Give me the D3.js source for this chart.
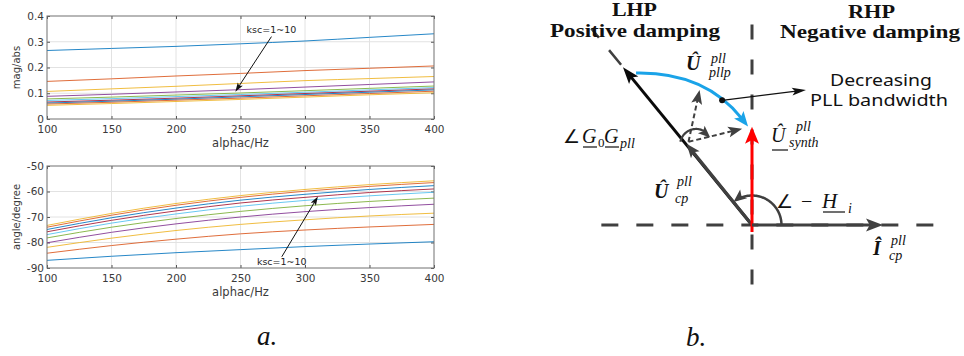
<!DOCTYPE html>
<html>
<head>
<meta charset="utf-8">
<script src="https://cdn.jsdelivr.net/npm/d3@7"></script>
<style>
  body { margin: 0; background: #fff; }
  svg { display: block; }
</style>
</head>
<body>
<svg id="fig" width="964" height="356"></svg>
<script>
// ---- data (a.)
const freqs = [100, 150, 200, 250, 300, 350, 400];
const xTicks = [100, 150, 200, 250, 300, 350, 400];
const magTicks = [0, 0.1, 0.2, 0.3, 0.4];
const angTicks = [-90, -80, -70, -60, -50];

// one row per ksc = 1..10
const magSeries = [
  [0.266, 0.274, 0.282, 0.292, 0.303, 0.317, 0.331],
  [0.146, 0.156, 0.167, 0.177, 0.188, 0.197, 0.206],
  [0.107, 0.117, 0.127, 0.138, 0.149, 0.157, 0.165],
  [0.088, 0.096, 0.105, 0.114, 0.124, 0.134, 0.144],
  [0.078, 0.085, 0.093, 0.101, 0.110, 0.119, 0.128],
  [0.072, 0.079, 0.087, 0.095, 0.104, 0.113, 0.122],
  [0.066, 0.073, 0.081, 0.090, 0.099, 0.108, 0.117],
  [0.062, 0.069, 0.077, 0.086, 0.095, 0.104, 0.113],
  [0.058, 0.065, 0.073, 0.081, 0.090, 0.099, 0.108],
  [0.053, 0.060, 0.068, 0.076, 0.085, 0.094, 0.102]
];
const angSeries = [
  [-87.0, -85.4, -84.0, -82.8, -81.6, -80.6, -79.7],
  [-84.2, -81.2, -78.7, -76.6, -75.1, -73.9, -72.9],
  [-81.9, -78.3, -75.3, -72.9, -71.1, -69.6, -68.5],
  [-80.1, -76.0, -72.7, -70.0, -67.9, -66.3, -65.0],
  [-78.2, -74.0, -70.6, -67.8, -65.6, -63.9, -62.6],
  [-76.9, -72.4, -68.8, -65.8, -63.5, -61.7, -60.3],
  [-75.8, -71.3, -67.6, -64.5, -62.3, -60.4, -59.0],
  [-74.9, -70.3, -66.5, -63.4, -61.1, -59.2, -57.7],
  [-74.0, -69.3, -65.4, -62.3, -59.9, -58.0, -56.5],
  [-73.3, -68.6, -64.7, -61.6, -59.2, -57.3, -55.8]
];
// annotation arrows "ksc=1~10": [tail, tip] in data units
const magNote = [[274, 0.320], [246, 0.106]];
const angNote = [[282, -85.6], [310, -62.0]];

// ---- phasor diagram (b.), in per-unit of |I_cp|
const axisRe = [-1.15, 1.41];
const axisIm = [-0.50, 1.53];
const vecName = ['Icp', 'Usynth', 'Ucp', 'Upllp'];
const vecRe = [1.0, 0.0, -0.50, -0.985];
const vecIm = [0.0, 0.75, 0.62, 1.205];
const rotRe = [-0.40, -0.075];
const rotIm = [1.03, 0.735];
const trajRe = [-0.885, -0.36, -0.03];
const trajIm = [1.16, 1.17, 0.752];
const dotRe = -0.228, dotIm = 0.952;
const noteRe = 0.412, noteIm = 1.031;

const lineColors = ['#0072BD', '#D95319', '#EDB120', '#7E2F8E', '#77AC30', '#4DBEEE', '#A2142F'];

const svg = d3.select('#fig');

function head(g, tip, ang, len, wid, color) {
  const c = Math.cos(ang), s = Math.sin(ang);
  const bx = tip[0] - len * c, by = tip[1] - len * s;
  const nx = tip[0] - len * 0.78 * c, ny = tip[1] - len * 0.78 * s;
  const px = -s * wid / 2, py = c * wid / 2;
  g.append('path')
    .attr('d', `M${tip[0]},${tip[1]}L${bx + px},${by + py}L${nx},${ny}L${bx - px},${by - py}Z`)
    .attr('fill', color);
}

function arrow(g, a, b, o) {
  const ang = Math.atan2(b[1] - a[1], b[0] - a[0]);
  const cut = o.len * 0.7;
  g.append('line')
    .attr('x1', a[0]).attr('y1', a[1])
    .attr('x2', b[0] - cut * Math.cos(ang)).attr('y2', b[1] - cut * Math.sin(ang))
    .attr('stroke', o.color).attr('stroke-width', o.width)
    .attr('stroke-dasharray', o.dash || null);
  head(g, b, ang, o.len, o.wid, o.color);
}

// ---- panel a.
const x = d3.scaleLinear().domain([100, 400]).range([47, 434]);

function drawPanel(series, ticks, top, bottom, ylabel, note, noteTextY) {
  const y = d3.scaleLinear().domain([ticks[0], ticks[ticks.length - 1]]).range([bottom, top]);
  const g = svg.append('g');

  g.append('g').selectAll('line').data(xTicks.slice(1, -1)).join('line')
    .attr('x1', d => x(d)).attr('x2', d => x(d))
    .attr('y1', top).attr('y2', bottom)
    .attr('stroke', '#e2e2e2');
  g.append('g').selectAll('line').data(ticks.slice(1, -1)).join('line')
    .attr('x1', x.range()[0]).attr('x2', x.range()[1])
    .attr('y1', d => y(d)).attr('y2', d => y(d))
    .attr('stroke', '#e2e2e2');

  const axes = [
    g.append('g').attr('transform', `translate(0,${bottom})`)
      .call(d3.axisBottom(x).tickValues(xTicks).tickSizeInner(-3).tickSizeOuter(0).tickPadding(6.5)),
    g.append('g').attr('transform', `translate(${x.range()[0]},0)`)
      .call(d3.axisLeft(y).tickValues(ticks).tickSizeInner(-3).tickSizeOuter(0).tickPadding(3)
        .tickFormat(d => String(d))),
    g.append('g').attr('transform', `translate(0,${top})`)
      .call(d3.axisTop(x).tickValues(xTicks).tickSizeInner(-3).tickSizeOuter(0).tickFormat('')),
    g.append('g').attr('transform', `translate(${x.range()[1]},0)`)
      .call(d3.axisRight(y).tickValues(ticks).tickSizeInner(-3).tickSizeOuter(0).tickFormat(''))
  ];
  axes.forEach(a => {
    a.select('.domain').remove();
    a.attr('font-family', '"DejaVu Sans", sans-serif').attr('font-size', 10.5).attr('color', '#555');
    a.selectAll('text').attr('fill', '#3a3a3a');
  });

  const line = d3.line().x((d, j) => x(freqs[j])).y(d => y(d)).curve(d3.curveMonotoneX);
  g.append('g').selectAll('path').data(series).join('path')
    .attr('d', line)
    .attr('fill', 'none')
    .attr('stroke', (d, i) => lineColors[i % lineColors.length])
    .attr('stroke-opacity', 0.85)
    .attr('stroke-width', 1);

  g.append('rect')
    .attr('x', x.range()[0]).attr('y', top)
    .attr('width', x.range()[1] - x.range()[0]).attr('height', bottom - top)
    .attr('fill', 'none').attr('stroke', '#707070');

  g.append('text')
    .attr('x', (x.range()[0] + x.range()[1]) / 2).attr('y', bottom + 28)
    .attr('text-anchor', 'middle')
    .attr('font-family', '"DejaVu Sans", sans-serif').attr('font-size', 11.5)
    .attr('fill', '#3a3a3a').text('alphac/Hz');
  g.append('text')
    .attr('transform', `translate(20,${(top + bottom) / 2}) rotate(-90)`)
    .attr('text-anchor', 'middle')
    .attr('font-family', '"DejaVu Sans", sans-serif').attr('font-size', 10)
    .attr('fill', '#3a3a3a').text(ylabel);

  arrow(g, [x(note[0][0]), y(note[0][1])], [x(note[1][0]), y(note[1][1])],
    { color: '#111', width: 1, len: 9, wid: 6 });
  g.append('text')
    .attr('x', x(note[0][0])).attr('y', y(noteTextY))
    .attr('text-anchor', 'middle')
    .attr('font-family', '"DejaVu Sans", sans-serif').attr('font-size', 9.5)
    .attr('fill', '#222').text('ksc=1~10');
}

drawPanel(magSeries, magTicks, 16, 119, 'mag/abs', magNote, 0.334);
drawPanel(angSeries, angTicks, 166, 268, 'angle/degree', angNote, -88.8);

// ---- panel b.
const ux = d3.scaleLinear().domain([0, 1]).range([752, 883]);
const uy = d3.scaleLinear().domain([0, 1]).range([225, 94]);
const pt = (re, im) => [ux(re), uy(im)];
const gray = '#404040';
const b = svg.append('g');

b.append('line')
  .attr('x1', ux(axisRe[0])).attr('x2', ux(axisRe[1]))
  .attr('y1', uy(0)).attr('y2', uy(0))
  .attr('stroke', gray).attr('stroke-width', 3).attr('stroke-dasharray', '17,18');
b.append('line')
  .attr('x1', ux(0)).attr('x2', ux(0))
  .attr('y1', uy(axisIm[1])).attr('y2', uy(axisIm[0]))
  .attr('stroke', gray).attr('stroke-width', 3).attr('stroke-dasharray', '15,20');

const O = pt(0, 0);
const iI = vecName.indexOf('Icp'), iS = vecName.indexOf('Usynth');
const iC = vecName.indexOf('Ucp'), iP = vecName.indexOf('Upllp');
const tipP = pt(vecRe[iP], vecIm[iP]);
const tipC = pt(vecRe[iC], vecIm[iC]);

// dashed continuation beyond U_pllp
const angP = Math.atan2(tipP[1] - O[1], tipP[0] - O[0]);
b.append('line')
  .attr('x1', tipP[0] + 3 * Math.cos(angP)).attr('y1', tipP[1] + 3 * Math.sin(angP))
  .attr('x2', tipP[0] + 50 * Math.cos(angP)).attr('y2', tipP[1] + 50 * Math.sin(angP))
  .attr('stroke', gray).attr('stroke-width', 2.5).attr('stroke-dasharray', '19,16');

arrow(b, O, tipP, { color: '#0a0a0a', width: 3, len: 17, wid: 12 });
arrow(b, O, tipC, { color: gray, width: 3.2, len: 14, wid: 11 });

// angle -H_i (counter-clockwise from I_cp to U_cp)
const angC = Math.atan2(vecIm[iC], vecRe[iC]);
const rH = 0.225;
const arcH = d3.range(0, angC - 0.15, 0.02).concat([angC - 0.15]).map(t => pt(rH * Math.cos(t), rH * Math.sin(t)));
b.append('path').attr('d', d3.line()(arcH)).attr('fill', 'none').attr('stroke', gray).attr('stroke-width', 2.5);
head(b, pt(rH * Math.cos(angC), rH * Math.sin(angC)), Math.atan2(-Math.cos(angC), -Math.sin(angC)), 13, 11, gray);

arrow(b, [O[0], O[1] + 7], pt(vecRe[iS], vecIm[iS]), { color: '#ff0000', width: 3, len: 17, wid: 14 });
arrow(b, O, pt(vecRe[iI], vecIm[iI]), { color: gray, width: 3, len: 17, wid: 13 });

// rotated candidates from U_cp tip
rotRe.forEach((re, i) => {
  arrow(b, [tipC[0] + 2, tipC[1] - 2], pt(re, rotIm[i]),
    { color: gray, width: 2, len: 14, wid: 11, dash: '5,3' });
});

// angle G0 Gpll (clockwise hump over the U_cp tip)
const cG = pt(-0.427, 0.611), rG = 16;
const a0 = 168 * Math.PI / 180, a1 = 52 * Math.PI / 180, aTip = 28 * Math.PI / 180;
const arcG = d3.range(a0, a1, -0.05).map(t => [cG[0] + rG * Math.cos(t), cG[1] - rG * Math.sin(t)]);
b.append('path').attr('d', d3.line()(arcG)).attr('fill', 'none').attr('stroke', gray).attr('stroke-width', 2.2);
head(b, [cG[0] + rG * Math.cos(aTip), cG[1] - rG * Math.sin(aTip)], Math.atan2(Math.cos(aTip + 0.35), Math.sin(aTip + 0.35)), 12, 10, gray);

// trajectory for decreasing PLL bandwidth
const tp = trajRe.map((re, i) => pt(re, trajIm[i]));
const tAng = Math.atan2(tp[2][1] - tp[1][1], tp[2][0] - tp[1][0]);
const tEnd = [tp[2][0] - 10 * Math.cos(tAng), tp[2][1] - 10 * Math.sin(tAng)];
const path = d3.path();
path.moveTo(tp[0][0], tp[0][1]);
path.quadraticCurveTo(tp[1][0], tp[1][1], tEnd[0], tEnd[1]);
b.append('path').attr('d', path.toString()).attr('fill', 'none').attr('stroke', '#1aa3e8').attr('stroke-width', 3);
head(b, tp[2], tAng, 15, 12, '#1aa3e8');

const dot = pt(dotRe, dotIm);
b.append('circle').attr('cx', dot[0]).attr('cy', dot[1]).attr('r', 3).attr('fill', '#111');
arrow(b, dot, pt(noteRe, noteIm), { color: '#111', width: 1.3, len: 14, wid: 8 });

// ---- texts of panel b.
const serif = '"Liberation Serif", "Times New Roman", serif';
function tx(xp, yp, s, o = {}) {
  const t = svg.append('text').attr('x', xp).attr('y', yp)
    .attr('font-family', o.family || serif).attr('font-size', o.size || 20)
    .attr('font-weight', o.bold ? 'bold' : 'normal')
    .attr('font-style', o.italic ? 'italic' : 'normal')
    .attr('fill', o.color || '#111')
    .attr('text-anchor', o.anchor || 'start')
    .text(s);
  if (o.len) t.attr('textLength', o.len).attr('lengthAdjust', 'spacingAndGlyphs');
  return t;
}
function uline(x1, x2, yp) {
  svg.append('line').attr('x1', x1).attr('x2', x2).attr('y1', yp).attr('y2', yp)
    .attr('stroke', '#111').attr('stroke-width', 1.2);
}

tx(612, 16, 'LHP', { bold: true, size: 19, len: 45 });
tx(550, 37, 'Positive damping', { bold: true, size: 19, len: 170 });
tx(848, 18, 'RHP', { bold: true, size: 19, len: 47 });
tx(780, 38, 'Negative damping', { bold: true, size: 19, len: 180 });

tx(830, 86, 'Decreasing', { family: '"Noto Sans", sans-serif', size: 15.5, len: 102 });
tx(810, 106, 'PLL bandwidth', { family: '"Noto Sans", sans-serif', size: 15.5, len: 138 });

// U_pllp^pll
tx(686, 70, 'Û', { bold: true, italic: true, size: 20 });
tx(711, 63, 'pll', { italic: true, size: 14 });
tx(709, 77, 'pllp', { italic: true, size: 14 });

// angle G0 Gpll
tx(563, 143, '∠', { size: 19 });
tx(582, 143, 'G', { italic: true, size: 20 });
tx(598, 147, '0', { size: 13 });
tx(604, 143, 'G', { italic: true, size: 20 });
tx(620, 148, 'pll', { italic: true, size: 14 });
uline(583, 597, 147);
uline(605, 619, 147);

// U_synth^pll
tx(771, 142, 'Û', { italic: true, size: 20 });
tx(796, 131, 'pll', { italic: true, size: 14 });
tx(789, 147, 'synth', { italic: true, size: 14 });
uline(772, 788, 150);

// U_cp^pll
tx(654, 198, 'Û', { bold: true, italic: true, size: 20 });
tx(677, 186, 'pll', { italic: true, size: 14 });
tx(675, 203, 'cp', { italic: true, size: 14 });

// angle -H_i
tx(776, 208, '∠', { size: 19 });
tx(801, 208, '−', { size: 20 });
tx(822, 208, 'H', { italic: true, size: 21 });
tx(848, 213, 'i', { italic: true, size: 14 });
uline(823, 845, 212);

// I_cp^pll
tx(873, 255, 'Î', { bold: true, italic: true, size: 20 });
tx(891, 245, 'pll', { italic: true, size: 14 });
tx(889, 260, 'cp', { italic: true, size: 14 });

// sub-figure tags
tx(257, 345, 'a.', { italic: true, size: 27 });
tx(686, 346, 'b.', { italic: true, size: 27 });
</script>
</body>
</html>
